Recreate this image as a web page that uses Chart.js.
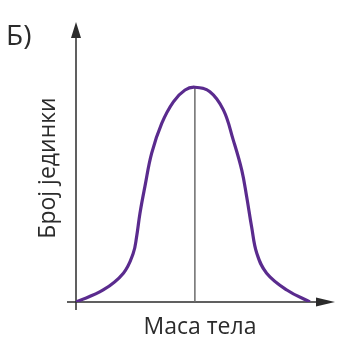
<!DOCTYPE html>
<html>
<head>
<meta charset="utf-8">
<script src="https://cdn.jsdelivr.net/npm/chart.js@4"></script>
<style>
  body { margin: 0; background: #fff; }
</style>
</head>
<body>
<canvas id="chart" width="363" height="351"></canvas>
<script>
// curve (body mass vs number of individuals, arbitrary units)
const massValues = [0, 10.5, 18.3, 22.1, 23.4, 24.7, 26.6, 29.2, 33.1, 37.6, 42.1, 45.9,
  51.7, 56.9, 60.7, 64.0, 65.9, 67.8, 69.8, 73.6, 81.4, 90.3];
const countValues = [0, 4.3, 10.3, 17.4, 23.3, 31.7, 41.2, 53.1, 63.8, 71.5, 75.7, 76.7,
  75.1, 68.6, 57.9, 47.1, 37.6, 26.9, 17.4, 10.3, 4.3, 0];
const peakMass = [45.9, 45.9];
const peakLine = [0, 76.7];

const panelLabel = 'Б)';
const xTitle = 'Маса тела';
const yTitle = 'Број јединки';

const ink = '#2b2b2b';
const fontName = '"Open Sans", "Noto Sans", sans-serif';

const axesPlugin = {
  id: 'axes',
  beforeDatasetsDraw(chart) {
    const { ctx, chartArea } = chart;
    const x0 = chartArea.left, y0 = chartArea.bottom;
    ctx.save();
    ctx.strokeStyle = ink;
    ctx.fillStyle = ink;
    ctx.lineWidth = 1.5;
    // y axis
    ctx.beginPath();
    ctx.moveTo(x0, y0 + 8);
    ctx.lineTo(x0, chartArea.top + 14);
    ctx.stroke();
    ctx.beginPath();
    ctx.moveTo(x0, chartArea.top);
    ctx.lineTo(x0 - 5, chartArea.top + 16);
    ctx.lineTo(x0 + 5, chartArea.top + 16);
    ctx.closePath();
    ctx.fill();
    // x axis
    ctx.beginPath();
    ctx.moveTo(x0 - 9, y0);
    ctx.lineTo(chartArea.right - 16, y0);
    ctx.stroke();
    ctx.beginPath();
    ctx.moveTo(chartArea.right, y0);
    ctx.lineTo(chartArea.right - 19, y0 - 4.5);
    ctx.lineTo(chartArea.right - 19, y0 + 4.5);
    ctx.closePath();
    ctx.fill();
    ctx.restore();
  },
  afterDraw(chart) {
    const { ctx } = chart;
    ctx.save();
    ctx.fillStyle = ink;
    ctx.font = '28px ' + fontName;
    ctx.textBaseline = 'alphabetic';
    ctx.textAlign = 'left';
    ctx.fillText(panelLabel, 6, 45);

    ctx.font = '23px ' + fontName;
    ctx.textAlign = 'center';
    ctx.fillText(xTitle, 200, 334);

    ctx.translate(55, 168);
    ctx.rotate(-Math.PI / 2);
    ctx.fillText(yTitle, 0, 0);
    ctx.restore();
  }
};

new Chart(document.getElementById('chart'), {
  type: 'line',
  data: {
    datasets: [
      {
        data: massValues.map((m, i) => ({ x: m, y: countValues[i] })),
        borderColor: '#5a2b8e',
        borderWidth: 3.2,
        pointRadius: 0,
        tension: 0.4,
        fill: false
      },
      {
        data: peakMass.map((m, i) => ({ x: m, y: peakLine[i] })),
        borderColor: '#6b6b6b',
        borderWidth: 1.5,
        pointRadius: 0,
        fill: false
      }
    ]
  },
  options: {
    responsive: false,
    animation: false,
    layout: { padding: { left: 76, right: 28, top: 22, bottom: 49 } },
    plugins: { legend: { display: false }, tooltip: { enabled: false } },
    scales: {
      x: { type: 'linear', min: 0, max: 100, display: false },
      y: { min: 0, max: 100, display: false }
    }
  },
  plugins: [axesPlugin]
});
</script>
</body>
</html>
